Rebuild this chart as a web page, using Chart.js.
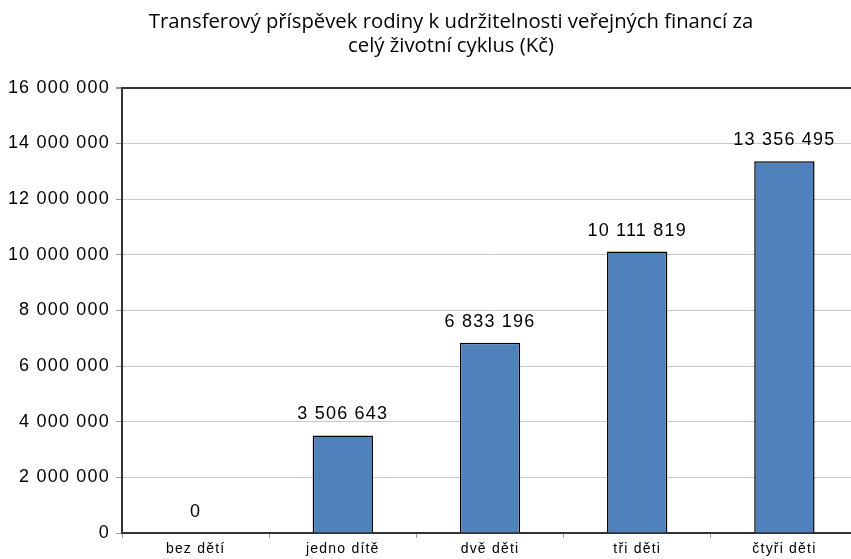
<!DOCTYPE html>
<html>
<head>
<meta charset="utf-8">
<script src="https://cdn.jsdelivr.net/npm/chart.js@4.4.1/dist/chart.umd.min.js"></script>
<style>
  html, body { margin: 0; padding: 0; background: #fff; overflow: hidden; }
  #wrap { width: 902px; height: 559px; }
</style>
</head>
<body>
<div id="wrap"><canvas id="myChart" width="902" height="559"></canvas></div>
<script>
// data
var categories = ["bez dětí", "jedno dítě", "dvě děti", "tři děti", "čtyři děti"];
var values = [0, 3506643, 6833196, 10111819, 13356495];
var yTicks = [0, 2000000, 4000000, 6000000, 8000000, 10000000, 12000000, 14000000, 16000000];

function fmt(v) {
  return String(v).replace(/\B(?=(\d{3})+(?!\d))/g, " ");
}

// value labels over the bars; the numbers in the original are a bit wider,
// so letter spacing is switched on here (tick labels are drawn after this, z: 1)
var barLabels = {
  id: "barLabels",
  afterLayout: function(chart) {
    // title is centred on the whole picture, not on the padded box
    chart.titleBlock.left += 36;
  },
  afterDatasetsDraw: function(chart) {
    var ctx = chart.ctx;
    var meta = chart.getDatasetMeta(0);
    ctx.letterSpacing = "1.2px";
    ctx.save();
    ctx.font = "18px 'Liberation Sans', Arial, sans-serif";
    ctx.fillStyle = "#000";
    ctx.textAlign = "center";
    ctx.textBaseline = "middle";
    meta.data.forEach(function(bar, i) {
      ctx.fillText(fmt(values[i]), bar.x, bar.y - 21);
    });
    ctx.restore();
  },
  afterDraw: function(chart) {
    chart.ctx.letterSpacing = "0px";
  }
};

new Chart("myChart", {
  type: "bar",
  data: {
    labels: categories,
    datasets: [{
      data: values,
      backgroundColor: "#4F81BD",
      borderColor: "#000",
      borderWidth: 1.5,
      barPercentage: 0.41,
      categoryPercentage: 1
    }]
  },
  options: {
    responsive: false,
    animation: false,
    layout: { padding: { left: 8, right: 44, top: 0, bottom: 0 } },
    plugins: {
      legend: { display: false },
      tooltip: { enabled: false },
      title: {
        display: true,
        text: ["Transferový příspěvek rodiny k udržitelnosti veřejných financí za", "celý životní cyklus (Kč)"],
        color: "#000",
        font: { family: "'Open Sans', sans-serif", size: 20.3, weight: "normal", lineHeight: 1.2 },
        padding: { top: 10, bottom: 29 }
      }
    },
    scales: {
      x: {
        grid: { offset: true, drawOnChartArea: false, drawTicks: true, tickLength: 5, color: "#999" },
        border: { color: "#333", width: 2 },
        ticks: { z: 1, color: "#000", padding: 3, font: { family: "'Liberation Sans', Arial, sans-serif", size: 14 } },
        afterFit: function(s) { s.height = 26; }
      },
      y: {
        min: 0,
        max: 16000000,
        afterBuildTicks: function(s) { s.ticks = yTicks.map(function(v) { return { value: v }; }); },
        grid: {
          color: function(c) { return c.tick && c.tick.value === 16000000 ? "#333" : "#c8c8c8"; },
          lineWidth: function(c) { return c.tick && c.tick.value === 16000000 ? 2 : 1; },
          tickLength: 6,
          tickColor: "#999"
        },
        border: { color: "#333", width: 2 },
        ticks: {
          z: 1,
          color: "#000",
          padding: 6,
          font: { family: "'Liberation Sans', Arial, sans-serif", size: 18 },
          callback: function(v) { return fmt(v); }
        },
        afterFit: function(s) { s.width = 114; }
      }
    }
  },
  plugins: [barLabels]
});
</script>
</body>
</html>
